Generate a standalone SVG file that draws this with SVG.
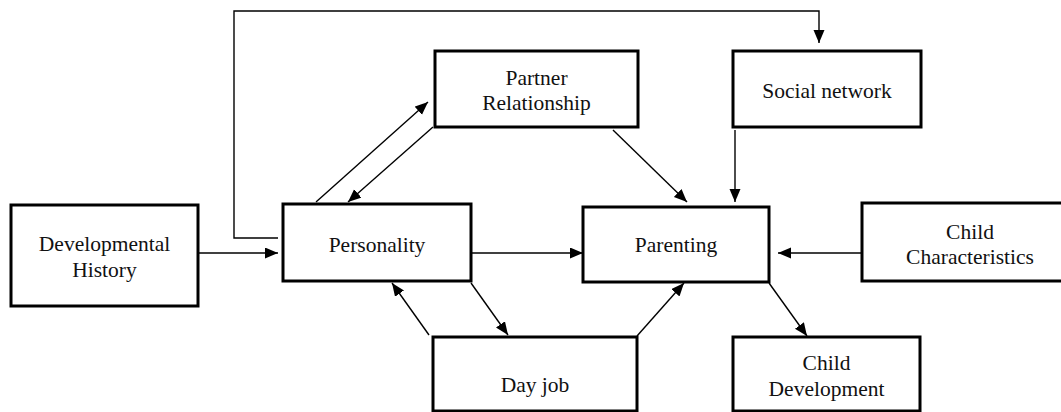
<svg xmlns="http://www.w3.org/2000/svg" width="1061" height="412" viewBox="0 0 1061 412">
<style>
.box{fill:#fff;stroke:#000;stroke-width:3}
.lbl{font-family:"Liberation Serif","Times New Roman",serif;font-size:21.5px;fill:#111;text-anchor:middle}
.edge{fill:none;stroke:#000;stroke-width:1.4}
</style>
<defs>
<marker id="arr" markerUnits="userSpaceOnUse" markerWidth="14" markerHeight="12" refX="13" refY="5.5" orient="auto">
<path d="M0,0 L13,5.5 L0,11 z" fill="#000"/>
</marker>
</defs>
<rect width="1061" height="412" fill="#fff"/>
<g id="connectors">
<path class="edge" marker-end="url(#arr)" d="M278,238 H234 V11 H819 V43"/>
<path class="edge" marker-end="url(#arr)" d="M198,253 H278"/>
<path class="edge" marker-end="url(#arr)" d="M471,253 H583"/>
<path class="edge" marker-end="url(#arr)" d="M862,253 H778"/>
<path class="edge" marker-end="url(#arr)" d="M316,202 L428,102"/>
<path class="edge" marker-end="url(#arr)" d="M433,127 L348,202"/>
<path class="edge" marker-end="url(#arr)" d="M613,130 L687,202"/>
<path class="edge" marker-end="url(#arr)" d="M735,130 V202"/>
<path class="edge" marker-end="url(#arr)" d="M471,283 L508,335"/>
<path class="edge" marker-end="url(#arr)" d="M429,335 L392,283"/>
<path class="edge" marker-end="url(#arr)" d="M637,336 L684,283"/>
<path class="edge" marker-end="url(#arr)" d="M769,283 L807,336"/>
</g>
<g id="partner">
<rect class="box" x="435" y="51" width="203" height="76"/>
<text class="lbl" x="536.5" y="85">Partner</text>
<text class="lbl" x="536.5" y="110">Relationship</text>
</g>
<g id="social">
<rect class="box" x="733" y="51" width="188" height="76"/>
<text class="lbl" x="827" y="98">Social network</text>
</g>
<g id="devhistory">
<rect class="box" x="11" y="205" width="187" height="101"/>
<text class="lbl" x="104.5" y="251">Developmental</text>
<text class="lbl" x="104.5" y="277">History</text>
</g>
<g id="personality">
<rect class="box" x="283" y="204" width="188" height="77"/>
<text class="lbl" x="377" y="252">Personality</text>
</g>
<g id="parenting">
<rect class="box" x="583" y="207" width="186" height="75"/>
<text class="lbl" x="676" y="252">Parenting</text>
</g>
<g id="childchar">
<rect class="box" x="862" y="203" width="216" height="78"/>
<text class="lbl" x="970" y="239">Child</text>
<text class="lbl" x="970" y="264">Characteristics</text>
</g>
<g id="dayjob">
<rect class="box" x="433" y="337" width="204" height="74"/>
<text class="lbl" x="535" y="392">Day job</text>
</g>
<g id="childdev">
<rect class="box" x="733" y="337" width="187" height="74"/>
<text class="lbl" x="826.5" y="370">Child</text>
<text class="lbl" x="826.5" y="396">Development</text>
</g>
</svg>
